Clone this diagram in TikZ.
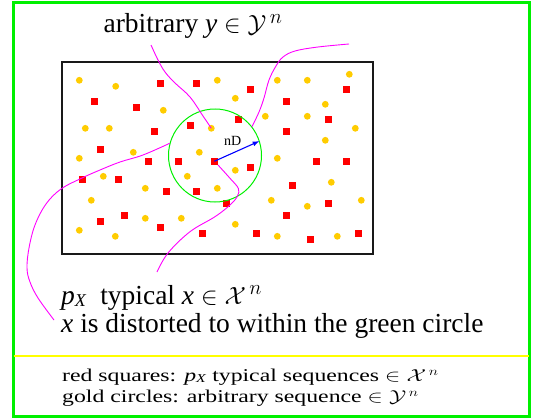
\documentclass[tikz,border=0pt]{standalone}
\usepackage{fontspec}
\setmainfont{Liberation Serif}
\usetikzlibrary{arrows.meta}
\definecolor{gold}{RGB}{255,204,0}
\definecolor{mag}{RGB}{255,0,255}
\definecolor{brgreen}{RGB}{0,240,0}
\definecolor{bryellow}{RGB}{255,255,0}
\definecolor{arrblue}{RGB}{0,0,255}
\tikzset{
  golddot/.style={fill=gold},
  redsq/.style={fill=red, draw=none, minimum size=7pt, inner sep=0pt, rectangle},
  curve/.style={draw=mag, line width=0.9pt},
  bigtext/.style={anchor=base west, inner sep=0pt, font=\fontsize{27.5}{28.2}\selectfont},
  legtext/.style={anchor=base west, inner sep=0pt, font=\fontsize{18}{22}\selectfont},
}
\begin{document}
\begin{tikzpicture}[x=1pt,y=-1pt]
\useasboundingbox (0,0) rectangle (534,417);
% outer frame
\draw[brgreen, line width=2.6pt] (13.7,2.8) rectangle (529.4,416.2);
\draw[bryellow, line width=2.3pt] (13.7,356.2) -- (529.4,356.2);
% rectangle
\draw[black!90, line width=2pt] (61.8,62.3) rectangle (373,254.2);
% gold circles
\foreach \p in {(79.3,80.3),(115.7,86.3),(217.3,80.3),(277.3,80.3),(307.3,80.3),(349.3,74.3),
(163.3,110.3),(235.3,98.3),(325.3,104.3),(265.3,116.3),(307.3,116.3),
(85.3,128.3),(109.3,128.3),(211.3,128.3),(355.3,128.3),(325.3,140.3),
(133.3,152.3),(199.3,152.3),(79.3,158.3),(277.3,158.3),
(103.3,176.3),(187.3,176.3),(235.3,170.3),(331.3,182.3),
(145.3,188.3),(217.3,188.3),
(91.3,200.3),(271.3,200.3),(307.3,206.3),(361.3,200.3),
(145.3,218.3),(181.3,218.3),(235.3,224.3),
(79.3,230.3),(115.3,236.3),(277.3,236.3),(337.3,236.3)}
  \fill[golddot] \p circle (3.4);
% red squares
\foreach \p in {(160.3,83.3),(196.3,83.3),(250.3,89.3),(346.3,89.3),
(94.3,101.3),(136.3,107.3),(286.3,101.3),
(238.3,119.3),(328.3,119.3),(190.3,125.3),
(154.3,131.3),(286.3,131.3),
(100.3,149.3),
(148.3,161.3),(178.3,161.3),(316.3,161.3),(346.3,161.3),
(250.3,167.3),
(82.3,179.3),(118.3,179.3),
(292.3,185.3),
(166.3,191.3),(196.3,191.3),
(226.3,203.3),(328.3,203.3),
(124.3,215.3),(286.3,215.3),
(100.3,221.3),
(160.3,227.3),
(202.3,233.3),(256.3,233.3),(358.3,233.3),
(310.3,239.3)}
  \node[redsq] at \p {};
\node[redsq] (ctr) at (214.3,161.3) {};
% green circle
\node[draw=brgreen, line width=1pt, circle, minimum size=93pt, inner sep=0pt] (circ) at (215,155.5) {};
% arrow
\draw[arrblue, line width=1.1pt, -{Latex[length=7pt,width=5pt]}] (ctr.center) -- (circ.18);
\node[font=\fontsize{14}{16}\selectfont, inner sep=0pt] (nd) at (232.7,141) {nD};
% magenta curves
\coordinate (c1s) at (151,45);
\coordinate (c2s) at (349,44);
\coordinate (c3e) at (54,320);
\coordinate (c4e) at (157,272);
\coordinate (g1) at (211.3,128.3);
\draw[curve] plot[smooth, tension=0.6] coordinates {(c1s) (158,60) (165,72) (175,83) (190,97) (203,116) (g1)};
\draw[curve] plot[smooth, tension=0.6] coordinates {(c2s) (318,47) (295,51) (283,57) (276,66) (269,80) (264,98) (259,112) (circ.38)};
\draw[curve] plot[smooth, tension=0.6] coordinates {(circ.165) (143,155) (120,162) (100,170) (82,178) (61,189) (46,204) (35,225) (29,248) (27,268) (30,282) (38,298) (c3e)};
\draw[curve] plot[smooth, tension=0.6] coordinates {(ctr.south east) (230,178.3) (238.3,188.3) (237.5,196) (230,205) (215,216.7) (190,231.7) (168,253) (c4e)};
% texts
\node[bigtext] (t1) at (103.4,32.9) {arbitrary \textit{y} $\in\mathcal{Y}^{\,n}$};
\node[bigtext, align=left] (t2) at (61,332.2) {\textit{p}\raisebox{-0.08em}[0pt][0pt]{\fontsize{18}{18}\selectfont\textit{X}}\ \ typical \textit{x} $\in\mathcal{X}^{\,n}$\\
\textit{x} is distorted to within the green circle};
\node[legtext] (l1) at (62,381.4) {\scalebox{1.32}[1]{red squares: \textit{p}\raisebox{-0.08em}[0pt][0pt]{\fontsize{12}{12}\selectfont\textit{X}} typical sequences $\in\mathcal{X}^{\,n}$}};
\node[legtext] (l2) at (62,402.4) {\scalebox{1.32}[1]{gold circles: arbitrary sequence $\in\mathcal{Y}^{\,n}$}};
\end{tikzpicture}
\end{document}
